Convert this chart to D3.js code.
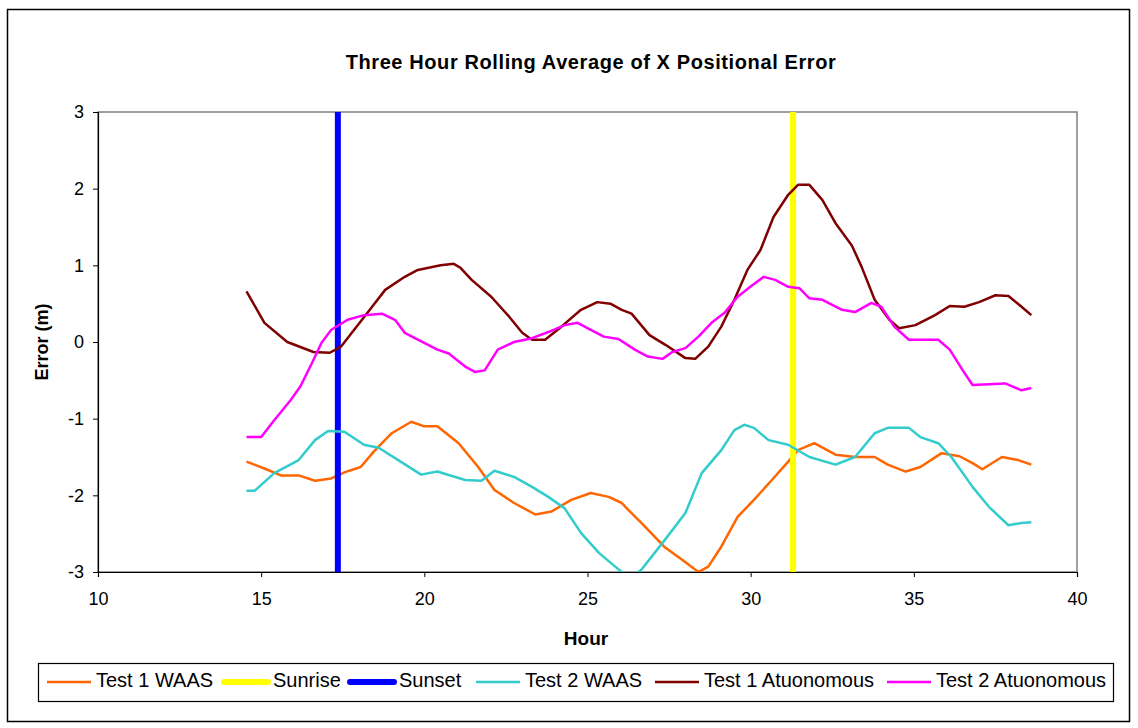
<!DOCTYPE html>
<html>
<head>
<meta charset="utf-8">
<script src="https://cdn.jsdelivr.net/npm/d3@7"></script>
<style>
  html, body { margin: 0; padding: 0; background: #fff; }
  svg { display: block; font-family: "Liberation Sans", Arial, sans-serif; }
</style>
</head>
<body>
<svg id="chart" width="1138" height="728"></svg>
<script>
// ---- Data ----
const title = "Three Hour Rolling Average of X Positional Error";
const xTicks = [10, 15, 20, 25, 30, 35, 40];
const yTicks = [-3, -2, -1, 0, 1, 2, 3];

const t1WaasHour = [14.55,15.1,15.6,16.15,16.65,17.15,17.55,18.05,18.45,19.0,19.6,20.0,20.4,21.05,21.65,22.15,22.75,23.4,23.9,24.5,25.1,25.65,26.05,26.25,26.65,27.35,27.9,28.4,28.7,29.1,29.6,30.1,30.65,31.15,31.45,31.95,32.6,33.2,33.8,34.2,34.75,35.2,35.85,36.4,36.8,37.1,37.7,38.2,38.6];
const t1WaasVal  = [-1.56,-1.65,-1.74,-1.74,-1.81,-1.78,-1.70,-1.63,-1.43,-1.19,-1.04,-1.10,-1.10,-1.32,-1.63,-1.93,-2.10,-2.25,-2.21,-2.06,-1.97,-2.02,-2.10,-2.19,-2.36,-2.67,-2.84,-3.00,-2.93,-2.67,-2.28,-2.06,-1.80,-1.56,-1.41,-1.32,-1.47,-1.50,-1.50,-1.60,-1.69,-1.63,-1.45,-1.49,-1.58,-1.66,-1.50,-1.54,-1.60];

const sunriseHour = 31.3;
const sunsetHour = 17.35;

const t2WaasHour = [14.55,14.8,15.4,16.15,16.65,17.05,17.55,18.15,18.6,19.2,19.9,20.4,21.25,21.75,22.15,22.75,23.3,23.8,24.3,24.8,25.35,25.85,26.05,26.3,26.65,27.3,28.0,28.5,29.1,29.5,29.8,30.1,30.55,31.15,31.8,32.6,33.2,33.8,34.2,34.85,35.2,35.75,36.15,36.8,37.3,37.9,38.3,38.6];
const t2WaasVal  = [-1.94,-1.94,-1.71,-1.54,-1.28,-1.16,-1.17,-1.34,-1.38,-1.54,-1.73,-1.69,-1.80,-1.81,-1.68,-1.76,-1.89,-2.02,-2.17,-2.49,-2.75,-2.93,-3.00,-3.08,-2.97,-2.62,-2.23,-1.71,-1.41,-1.15,-1.08,-1.12,-1.28,-1.34,-1.50,-1.60,-1.50,-1.19,-1.12,-1.12,-1.24,-1.32,-1.50,-1.89,-2.15,-2.39,-2.36,-2.35];

const t1AutoHour = [14.55,15.1,15.8,16.6,17.1,17.45,17.85,18.4,18.8,19.4,19.8,20.5,20.9,21.1,21.45,22.05,22.6,23.0,23.3,23.7,24.2,24.8,25.3,25.7,26.05,26.35,26.9,27.4,28.0,28.3,28.7,29.1,29.5,29.9,30.3,30.7,31.15,31.45,31.8,32.2,32.6,33.1,33.4,33.8,34.25,34.55,35.05,35.65,36.1,36.55,37.0,37.5,37.9,38.3,38.6];
const t1AutoVal  = [0.66,0.25,0.00,-0.13,-0.14,-0.06,0.16,0.46,0.68,0.85,0.94,1.00,1.02,0.97,0.81,0.59,0.33,0.12,0.03,0.03,0.20,0.42,0.52,0.50,0.42,0.37,0.09,-0.04,-0.21,-0.22,-0.06,0.20,0.55,0.94,1.20,1.63,1.92,2.05,2.05,1.85,1.55,1.26,0.98,0.55,0.29,0.18,0.22,0.35,0.47,0.46,0.52,0.61,0.60,0.46,0.35];

const t2AutoHour = [14.55,15.0,15.4,15.9,16.2,16.55,16.85,17.15,17.65,18.15,18.7,19.1,19.4,19.8,20.4,20.75,21.25,21.55,21.85,22.25,22.75,23.3,23.8,24.3,24.7,25.0,25.5,25.95,26.45,26.85,27.3,27.6,28.0,28.4,28.8,29.2,29.6,30.05,30.4,30.75,31.15,31.5,31.8,32.2,32.8,33.2,33.7,34.0,34.4,34.85,35.75,36.1,36.5,36.8,37.8,38.3,38.6];
const t2AutoVal  = [-1.24,-1.24,-1.02,-0.76,-0.58,-0.28,-0.01,0.16,0.29,0.35,0.37,0.29,0.12,0.03,-0.10,-0.15,-0.32,-0.39,-0.37,-0.10,0.00,0.05,0.13,0.22,0.25,0.18,0.07,0.04,-0.10,-0.19,-0.22,-0.13,-0.08,0.07,0.25,0.38,0.59,0.74,0.85,0.81,0.72,0.70,0.57,0.55,0.42,0.39,0.51,0.46,0.20,0.03,0.03,-0.10,-0.37,-0.56,-0.54,-0.63,-0.60];

const seriesNames = ["Test 1 WAAS", "Sunrise", "Sunset", "Test 2 WAAS", "Test 1 Atuonomous", "Test 2 Atuonomous"];
const seriesColors = ["#FF6600", "#FFFF00", "#0000FF", "#33CCCC", "#800000", "#FF00FF"];

// ---- Build ----
const zip = (hs, vs) => hs.map((h, i) => [h, vs[i]]);
const series = [
  { name: seriesNames[0], color: seriesColors[0], width: 2.5, pts: zip(t1WaasHour, t1WaasVal) },
  { name: seriesNames[1], color: seriesColors[1], width: 6, pts: [[sunriseHour, -3], [sunriseHour, 3]] },
  { name: seriesNames[2], color: seriesColors[2], width: 6, pts: [[sunsetHour, -3], [sunsetHour, 3]] },
  { name: seriesNames[3], color: seriesColors[3], width: 2.5, pts: zip(t2WaasHour, t2WaasVal) },
  { name: seriesNames[4], color: seriesColors[4], width: 2.5, pts: zip(t1AutoHour, t1AutoVal) },
  { name: seriesNames[5], color: seriesColors[5], width: 2.5, pts: zip(t2AutoHour, t2AutoVal) }
];

const svg = d3.select("#chart");
const plot = { left: 98, right: 1077, top: 112, bottom: 572 };

// outer border
svg.append("rect").attr("x", 7.5).attr("y", 9.5).attr("width", 1122).attr("height", 712)
  .attr("fill", "#fff").attr("stroke", "#000").attr("stroke-width", 1.5);

const x = d3.scaleLinear().domain([10, 40]).range([plot.left, plot.right]);
const y = d3.scaleLinear().domain([-3, 3]).range([plot.bottom, plot.top]);

// title
svg.append("text").attr("x", 591).attr("y", 69).attr("text-anchor", "middle")
  .attr("font-size", "20px").attr("font-weight", "bold").attr("letter-spacing", "0.6px").text(title);

// plot area border
svg.append("rect").attr("x", plot.left).attr("y", plot.top)
  .attr("width", plot.right - plot.left).attr("height", plot.bottom - plot.top)
  .attr("fill", "none").attr("stroke", "#808080").attr("stroke-width", 1.5);

svg.append("defs").append("clipPath").attr("id", "clip")
  .append("rect").attr("x", plot.left).attr("y", plot.top)
  .attr("width", plot.right - plot.left).attr("height", plot.bottom - plot.top);

// axes
const fmt = d => String(d);
const xAxis = svg.append("g").attr("transform", `translate(0,${plot.bottom})`)
  .call(d3.axisBottom(x).tickValues(xTicks).tickSize(5).tickPadding(15).tickFormat(fmt));
const yAxis = svg.append("g").attr("transform", `translate(${plot.left},0)`)
  .call(d3.axisLeft(y).tickValues(yTicks).tickSize(5).tickPadding(9).tickFormat(fmt));
[xAxis, yAxis].forEach(a => {
  a.select(".domain").attr("stroke", "#000").attr("stroke-width", 1.2);
  a.selectAll(".tick line").attr("stroke", "#000");
  a.selectAll(".tick text").attr("font-size", "18px").attr("fill", "#000")
    .attr("font-family", "'Liberation Sans', Arial, sans-serif");
});

// axis titles
svg.append("text").attr("x", 586).attr("y", 645).attr("text-anchor", "middle")
  .attr("font-size", "19px").attr("font-weight", "bold").text("Hour");
svg.append("text").attr("transform", "translate(48,342) rotate(-90)").attr("text-anchor", "middle")
  .attr("font-size", "18px").attr("font-weight", "bold").text("Error (m)");

// lines
const line = d3.line().x(d => x(d[0])).y(d => y(d[1]));
const g = svg.append("g").attr("clip-path", "url(#clip)");
series.forEach(s => {
  g.append("path").datum(s.pts).attr("d", line)
    .attr("fill", "none").attr("stroke", s.color).attr("stroke-width", s.width)
    .attr("stroke-linejoin", "round");
});

// legend
svg.append("rect").attr("x", 38.5).attr("y", 663.5).attr("width", 1075).attr("height", 38)
  .attr("fill", "#fff").attr("stroke", "#000").attr("stroke-width", 1.2);
const legendX = [47, 224, 350, 476, 655, 887];
const legendY = 682;
series.forEach((s, i) => {
  svg.append("line").attr("x1", legendX[i]).attr("x2", legendX[i] + 44)
    .attr("y1", legendY).attr("y2", legendY)
    .attr("stroke", s.color).attr("stroke-width", s.width === 6 ? 6 : 2.5)
    .attr("stroke-linecap", s.width === 6 ? "round" : "butt");
  svg.append("text").attr("x", legendX[i] + 49).attr("y", legendY + 5)
    .attr("font-size", "20px").text(s.name);
});
</script>
</body>
</html>
